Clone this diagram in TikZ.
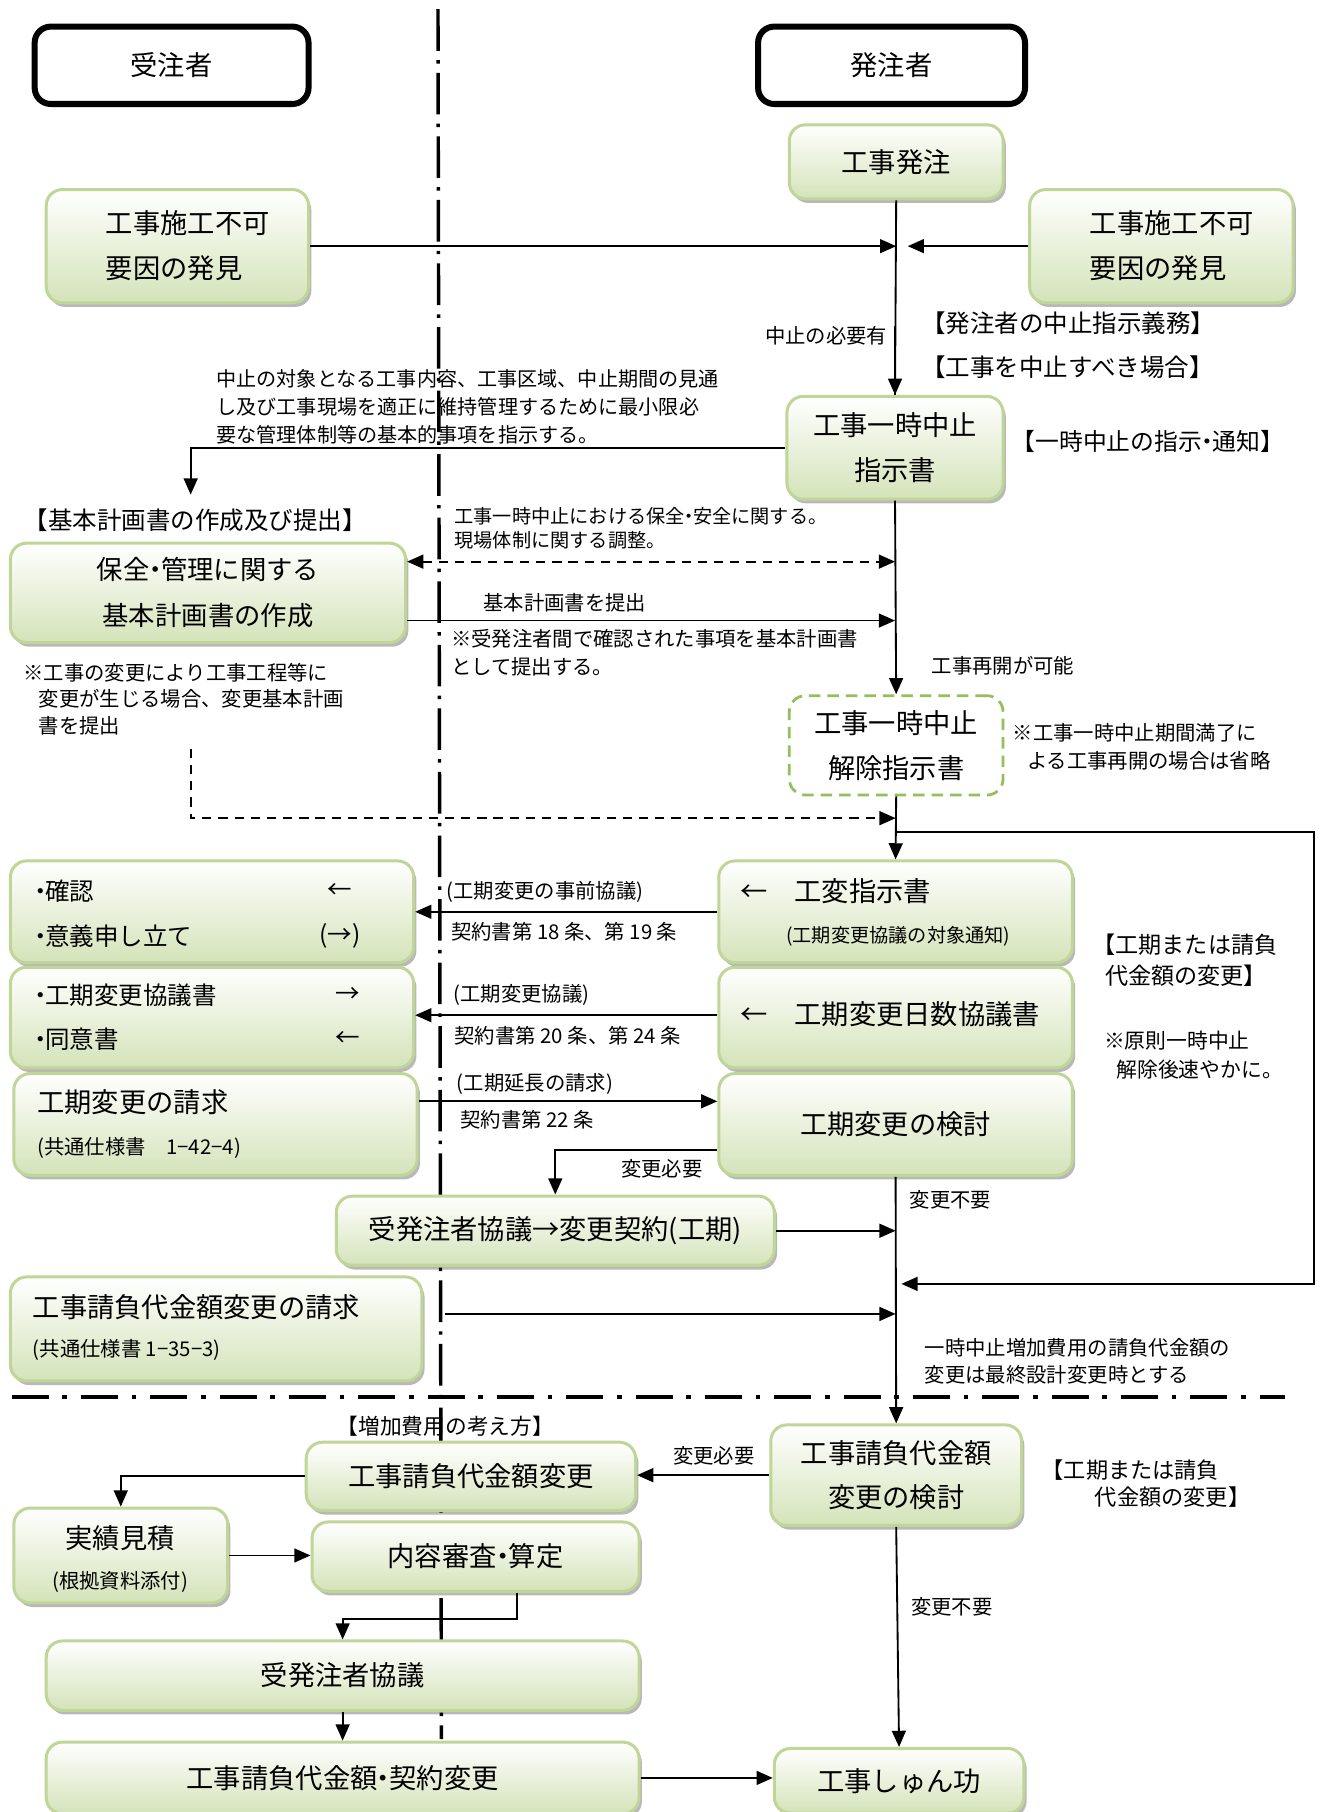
\documentclass[tikz,border=0pt]{standalone}
\usepackage{fontspec}
\setmainfont{Noto Sans CJK JP}
\usetikzlibrary{arrows.meta,shadows,calc}
\definecolor{gborder}{RGB}{192,213,152}
\definecolor{gfill}{RGB}{212,227,185}
\definecolor{dborder}{RGB}{150,190,90}
\newcommand\szL{\fontsize{11.8pt}{19.5pt}\selectfont}
\newcommand\szA{\fontsize{10.6pt}{13pt}\selectfont}
\newcommand\szS{\fontsize{8.8pt}{12pt}\selectfont}
\newcommand\szT{\fontsize{8.3pt}{10.5pt}\selectfont}
\newcommand\nkdot{\kern-0.28em・\kern-0.28em}
\begin{document}
\begin{tikzpicture}[x=0.5pt,y=-0.5pt,
  hdr/.style={draw=black, line width=2.6pt, rounded corners=7pt, fill=white, inner sep=0pt, font=\szL},
  gbox/.style={draw=gborder, line width=1.3pt, rounded corners=7pt, top color=white, bottom color=gfill,
    drop shadow={shadow xshift=1.2pt, shadow yshift=-1.8pt, fill=black, opacity=0.28},
    inner sep=0pt, align=center, font=\szL},
  dbox/.style={draw=dborder, line width=1.2pt, dash pattern=on 5pt off 3pt, rounded corners=7pt, fill=white,
    inner sep=0pt, align=center, font=\szL},
  txt/.style={inner sep=0pt, anchor=west, align=left},
  conn/.style={line width=0.8pt},
  arr/.style={line width=0.8pt, -{Triangle[length=7pt,width=6pt]}},
  darr/.style={line width=0.8pt, {Triangle[length=7pt,width=6pt]}-{Triangle[length=7pt,width=6pt]}, dash pattern=on 4pt off 3pt}
]
\useasboundingbox (0,0) rectangle (1143,1568);
\fill[white] (0,0) rectangle (1143,1568);

% separator lines
\draw[line width=1.5pt, dash pattern=on 18pt off 4pt on 1.5pt off 4pt] (379,8) -- (382,1505);
\draw[line width=2pt, dash pattern=on 16pt off 6pt on 2pt off 6pt] (10,1209) -- (1112,1209);

% headers
\node[hdr, minimum width=118.5pt, minimum height=33.5pt] (jc) at (148.5,56.5) {受注者};
\node[hdr, minimum width=115.5pt, minimum height=33.5pt] (hc) at (771.5,56.5) {発注者};

% boxes
\node[gbox, minimum width=92.5pt, minimum height=32pt] (order) at (775.5,140) {工事発注};
\node[gbox, align=left, minimum width=113.5pt, minimum height=49pt] (findL) at (153.5,213) {\hspace*{9pt}工事施工不可\\\hspace*{9pt}要因の発見};
\node[gbox, align=left, minimum width=114pt, minimum height=49pt] (findR) at (1005,213) {\hspace*{9pt}工事施工不可\\\hspace*{9pt}要因の発見};
\node[gbox, minimum width=93.5pt, minimum height=44.5pt] (stop) at (774.5,387.5) {工事一時中止\\指示書};
\node[gbox, minimum width=171pt, minimum height=43pt, font=\fontsize{11.4pt}{20pt}\selectfont] (plan) at (180,513) {保全\nkdot 管理に関する\\基本計画書の作成};
\node[dbox, minimum width=92.5pt, minimum height=43pt] (resume) at (775.5,645) {工事一時中止\\解除指示書};
\node[gbox, minimum width=174.5pt, minimum height=44pt] (boxA) at (183.5,789) {};
\node[gbox, minimum width=174.5pt, minimum height=43.5pt] (boxB) at (183.5,880.5) {};
\node[gbox, minimum width=174.5pt, minimum height=44pt] (boxC) at (186.5,973) {};
\node[gbox, minimum width=153pt, minimum height=44pt] (kouhen) at (775,789) {};
\node[gbox, minimum width=153pt, minimum height=43.5pt] (nissu) at (775,880.5) {};
\node[gbox, minimum width=153pt, minimum height=44pt] (kento) at (775,973) {工期変更の検討};
\node[gbox, minimum width=189.5pt, minimum height=30pt] (keiyaku) at (480.5,1065) {受発注者協議→変更契約(工期)};
\node[gbox, minimum width=178pt, minimum height=45pt] (seikyu) at (187,1150) {};
\node[gbox, minimum width=108.5pt, minimum height=43.5pt, font=\fontsize{11.8pt}{19pt}\selectfont] (dkento) at (775.5,1276.5) {工事請負代金額\\変更の検討};
\node[gbox, minimum width=142.5pt, minimum height=29.5pt] (dhenko) at (407.5,1277.5) {工事請負代金額変更};
\node[gbox, minimum width=92.5pt, minimum height=41pt] (jisseki) at (104.5,1346) {};
\node[gbox, minimum width=141.5pt, minimum height=30pt] (shinsa) at (411.5,1347) {内容審査\nkdot 算定};
\node[gbox, minimum width=256.5pt, minimum height=30pt] (kyogi) at (296.5,1450) {受発注者協議};
\node[gbox, minimum width=256.5pt, minimum height=31pt] (keihen) at (296.5,1538.5) {工事請負代金額\nkdot 契約変更};
\node[gbox, minimum width=108pt, minimum height=28pt] (shunko) at (778,1541) {工事しゅん功};

% texts inside composite boxes
\node[txt, font=\szA] (a1) at (24,771) {・\kern-0.3em 確認};
\node[txt, font=\szA] (a2) at (283,771) {←};
\node[txt, font=\szA] (a3) at (24,810) {・\kern-0.3em 意義申し立て};
\node[txt, font=\szA] (a4) at (276,810) {(→)};
\node[txt, font=\szA] (b1) at (24,861) {・\kern-0.3em 工期変更協議書};
\node[txt, font=\szA] (b2) at (290,861) {→};
\node[txt, font=\szA] (b3) at (24,899) {・\kern-0.3em 同意書};
\node[txt, font=\szA] (b4) at (290,899) {←};
\node[txt, font=\szL] (c1) at (32,954) {工期変更の請求};
\node[txt, font=\szS] (c2) at (32,993) {(共通仕様書\quad 1−42−4)};
\node[txt, font=\szL] (k1) at (640,771) {←\quad 工変指示書};
\node[txt, font=\szT] (k2) at (680,810) {(工期変更協議の対象通知)};
\node[txt, font=\szL] (n1) at (640,878) {←\quad 工期変更日数協議書};
\node[txt, font=\szL] (s1) at (28,1131) {工事請負代金額変更の請求};
\node[txt, font=\szS] (s2) at (28,1168) {(共通仕様書 1−35−3)};
\node[inner sep=0pt, font=\szL] (j1) at (104,1331) {実績見積};
\node[inner sep=0pt, font=\szS] (j2) at (104,1369) {(根拠資料添付)};

% coordinates for free ends
\coordinate (p1) at (165,428);
\coordinate (q0) at (165,648);
\coordinate (q1) at (775,708);
\coordinate (l0) at (775,720);
\coordinate (lr) at (1137,720);
\coordinate (l1) at (780,1111);
\coordinate (r0) at (385,1137);

% connectors
\draw[conn] (order.south) -- (stop.north);
\draw[arr] ([yshift=30pt]stop.north) -- (stop.north);
\draw[arr] (findL.east) -- (findL.east -| order.south);
\draw[arr] (findR.west) -- ([xshift=5pt]findR.west -| order.south);
\draw[arr] (stop.west) -| (p1);
\draw[darr] ([yshift=13.5pt]plan.east) -- ([yshift=13.5pt]plan.east -| stop.south);
\draw[arr] ([yshift=-12pt]plan.east) -- ([yshift=-12pt]plan.east -| stop.south);
\draw[arr] (stop.south) -- (resume.north);
\draw[arr, dash pattern=on 4pt off 3pt] (q0) |- (q1);
\draw[arr] (resume.south) -- (kouhen.north);
\draw[arr] (l0) -- (lr) |- (l1);
\draw[arr] (kouhen.west) -- (kouhen.west -| boxA.east);
\draw[arr] ([yshift=1pt]nissu.west) -- ([yshift=1pt]nissu.west -| boxB.east);
\draw[arr] ([yshift=10pt]boxC.east) -- ([yshift=10pt]boxC.east -| kento.west);
\draw[arr] ([yshift=-11pt]kento.west) -| (keiyaku.north);
\draw[arr] (keiyaku.east) -- (keiyaku.east -| kento.south);
\draw[arr] (kento.south) -- (dkento.north);
\draw[arr] (r0) -- (r0 -| kento.south);
\draw[arr] (dkento.west) -- (dkento.west -| dhenko.east);
\draw[arr] (dhenko.west) -| (jisseki.north);
\draw[arr] (jisseki.east) -- (jisseki.east -| shinsa.west);
\draw[arr] ([xshift=18pt]shinsa.south) -- ++(0,23) -| (kyogi.north);
\draw[arr] (kyogi.south) -- (keihen.north);
\draw[arr] (keihen.east) -- (keihen.east -| shunko.west);
\draw[arr] (dkento.south) -- (shunko.north);

% free labels
\node[inner sep=0pt, anchor=east, font=\szS] (t1) at (768,291) {中止の必要有};
\node[txt, font=\szA] (t2) at (797,280) {【発注者の中止指示義務】};
\node[txt, font=\szA] (t3) at (797,318) {【工事を中止すべき場合】};
\node[txt, font=\fontsize{10.3pt}{13pt}\selectfont] (t4) at (875,382) {【一時中止の指示\nkdot 通知】};
\node[txt, font=\fontsize{8.7pt}{12pt}\selectfont] (t5) at (187,352) {中止の対象となる工事内容、工事区域、中止期間の見通\\し及び工事現場を適正に維持管理するために最小限必\\要な管理体制等の基本的事項を指示する。};
\node[txt, font=\szA] (t6) at (20,450) {【基本計画書の作成及び提出】};
\node[txt, font=\szT] (t7) at (393,457) {工事一時中止における保全\nkdot 安全に関する。\\現場体制に関する調整。};
\node[txt, font=\szS] (t8) at (418,522) {基本計画書を提出};
\node[txt, font=\szS] (t9) at (390,565) {※受発注者間で確認された事項を基本計画書\\として提出する。};
\node[txt, font=\szS] (t10) at (806,576) {工事再開が可能};
\node[txt, font=\szS] (t11) at (876,646) {※工事一時中止期間満了に\\\hspace*{0.7em}よる工事再開の場合は省略};
\node[txt, font=\fontsize{8.8pt}{11.5pt}\selectfont] (t12) at (20,605) {※工事の変更により工事工程等に\\\hspace*{0.75em}変更が生じる場合、変更基本計画\\\hspace*{0.75em}書を提出};
\node[txt, font=\szS] (t13) at (386,772) {(工期変更の事前協議)};
\node[txt, font=\szS] (t14) at (390,806) {契約書第 18 条、第 19 条};
\node[txt, font=\szS] (t15) at (392,861) {(工期変更協議)};
\node[txt, font=\szS] (t16) at (393,896) {契約書第 20 条、第 24 条};
\node[txt, font=\szS] (t17) at (395,938) {(工期延長の請求)};
\node[txt, font=\szS] (t18) at (398,969) {契約書第 22 条};
\node[txt, font=\szS] (t19) at (537,1011) {変更必要};
\node[txt, font=\szS] (t20) at (787,1038) {変更不要};
\node[txt, font=\fontsize{10pt}{13.5pt}\selectfont] (t21) at (945,831) {【工期または請負\\\hspace*{0.55em}代金額の変更】};
\node[txt, font=\fontsize{9pt}{12.5pt}\selectfont] (t22) at (955,913) {※原則一時中止\\\hspace*{0.6em}解除後速やかに。};
\node[txt, font=\szS] (t23) at (800,1178) {一時中止増加費用の請負代金額の\\変更は最終設計変更時とする};
\node[txt, font=\fontsize{9.4pt}{12pt}\selectfont] (t24) at (291,1234) {【増加費用の考え方】};
\node[txt, font=\szS] (t25) at (582,1260) {変更必要};
\node[txt, font=\fontsize{9.6pt}{11.5pt}\selectfont] (t26) at (901,1284) {【工期または請負\\\hspace*{2.4em}代金額の変更】};
\node[txt, font=\szS] (t27) at (788,1390) {変更不要};
\end{tikzpicture}
\end{document}
